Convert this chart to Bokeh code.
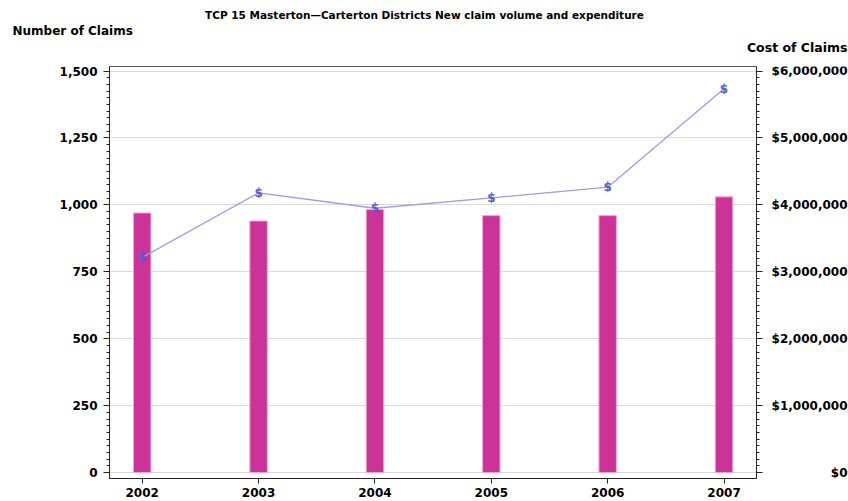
from bokeh.plotting import figure
from bokeh.layouts import column, row
from bokeh.models import (Range1d, LinearAxis, NumeralTickFormatter, SingleIntervalTicker,
                          FixedTicker, ColumnDataSource)
from bokeh.core.properties import value
from bokeh.embed import file_html
from bokeh.resources import INLINE

# ---- data ----
years = [2002, 2003, 2004, 2005, 2006, 2007]
claims = [970, 940, 983, 960, 960, 1030]
cost = [3215000, 4180000, 3950000, 4105000, 4265000, 5735000]
right_ticks = [0, 1000000, 2000000, 3000000, 4000000, 5000000, 6000000]
right_tick_labels = ["$0", "$1,000,000", "$2,000,000", "$3,000,000",
                     "$4,000,000", "$5,000,000", "$6,000,000"]
title_text = "TCP 15 Masterton\u2014Carterton Districts New claim volume and expenditure"
left_title = "Number of Claims"
right_title = "Cost of Claims"

# ---- layout ----
W, H = 848, 501
TOP_H = 58                 # header strip with the titles
L, R, T, B = 109, 756, 66, 478   # frame edges in pixels
RB = 12                    # right border of the main figure (room for ticks)
W1 = R + RB                # main figure width
W2 = W - W1                # right label strip width
MH = H - TOP_H             # main figure height
x0, x1 = 2001.719, 2007.279
y0, y1 = -22, 1517
RATIO = 4000

FONT = "DejaVu Sans"
FS = "12px"

cost_range = Range1d(y0 * RATIO, y1 * RATIO)

# ---- header with titles ----
head = figure(width=W, height=TOP_H, x_range=Range1d(0, W), y_range=Range1d(TOP_H, 0),
              output_backend="svg", toolbar_location=None, min_border=0)
head.axis.visible = False
head.grid.visible = False
head.outline_line_color = None
head.text(x=[424], y=[14], text=[title_text], text_align="center", text_baseline="middle",
          text_font=value(FONT), text_font_style="bold", text_font_size="10.5px",
          text_color="black")
head.text(x=[12], y=[30], text=[left_title], text_align="left", text_baseline="middle",
          text_font=value(FONT), text_font_style="bold", text_font_size=FS,
          text_color="black")
head.text(x=[W - 1], y=[47], text=[right_title], text_align="right", text_baseline="middle",
          text_font=value(FONT), text_font_style="bold", text_font_size="12.5px",
          text_color="black")

# ---- main chart ----
p1 = figure(width=W1, height=MH, x_range=Range1d(x0, x1), y_range=Range1d(y0, y1),
            output_backend="svg", toolbar_location=None,
            min_border_left=L, min_border_right=RB, min_border_top=T - TOP_H,
            min_border_bottom=H - B)
p1.background_fill_color = "white"
p1.border_fill_color = "white"
p1.outline_line_color = "#555555"
p1.outline_line_width = 1
p1.extra_y_ranges = {"cost": cost_range}

p1.xgrid.visible = False
p1.ygrid.grid_line_color = "#d9d9d9"
p1.ygrid.grid_line_width = 1

ya = p1.yaxis[0]
ya.ticker = SingleIntervalTicker(interval=250, num_minor_ticks=10)
ya.formatter = NumeralTickFormatter(format="0,0")
ya.major_tick_out = 6
ya.major_tick_in = 0
ya.minor_tick_out = 3
ya.minor_tick_in = 0
ya.major_label_standoff = 6
ya.axis_line_color = "#222222"
ya.major_tick_line_color = "#222222"
ya.minor_tick_line_color = "#222222"
ya.major_label_text_font = FONT
ya.major_label_text_font_style = "bold"
ya.major_label_text_font_size = FS
ya.major_label_text_color = "black"

xa = p1.xaxis[0]
xa.ticker = FixedTicker(ticks=years)
xa.minor_tick_line_color = None
xa.major_tick_out = 5
xa.major_tick_in = 0
xa.major_label_standoff = 4
xa.axis_line_color = "#222222"
xa.major_tick_line_color = "#222222"
xa.major_label_text_font = FONT
xa.major_label_text_font_style = "bold"
xa.major_label_text_font_size = FS
xa.major_label_text_color = "black"

ra = LinearAxis(y_range_name="cost",
                ticker=SingleIntervalTicker(interval=1000000, num_minor_ticks=10),
                major_label_overrides={t: "" for t in right_ticks})
ra.major_tick_out = 6
ra.major_tick_in = 0
ra.minor_tick_out = 3
ra.minor_tick_in = 0
ra.major_label_standoff = 0
ra.axis_line_color = "#222222"
ra.major_tick_line_color = "#222222"
ra.minor_tick_line_color = "#222222"
ra.major_label_text_font_size = "1px"
p1.add_layout(ra, "right")

p1.vbar(x=years, top=claims, bottom=0, width=0.15,
        fill_color="#cc3399", line_color="#f0a8d8", line_width=1)

p1.line(x=years, y=cost, y_range_name="cost", line_color="#9c9ce8", line_width=1.3)
p1.text(x=years, y=cost, text=value("$"), y_range_name="cost",
        text_align="center", text_baseline="middle",
        text_color="#5a5acc", text_font=value(FONT), text_font_style="bold",
        text_font_size="12px")

# ---- right tick-label strip (shares the cost scale) ----
p2 = figure(width=W2, height=MH, x_range=Range1d(0, W2), y_range=cost_range,
            output_backend="svg", toolbar_location=None,
            min_border_left=0, min_border_right=0, min_border_top=T - TOP_H,
            min_border_bottom=H - B)
p2.axis.visible = False
p2.grid.visible = False
p2.outline_line_color = None
rsrc = ColumnDataSource(dict(x=[W2 - 1] * len(right_ticks), y=right_ticks,
                             text=right_tick_labels))
p2.text(x="x", y="y", text="text", source=rsrc, text_align="right", text_baseline="middle",
        text_font=value(FONT), text_font_style="bold", text_font_size=FS, text_color="black")

p = column(head, row(p1, p2, spacing=0), spacing=0)

open("out.html", "w").write(file_html(p, INLINE))
